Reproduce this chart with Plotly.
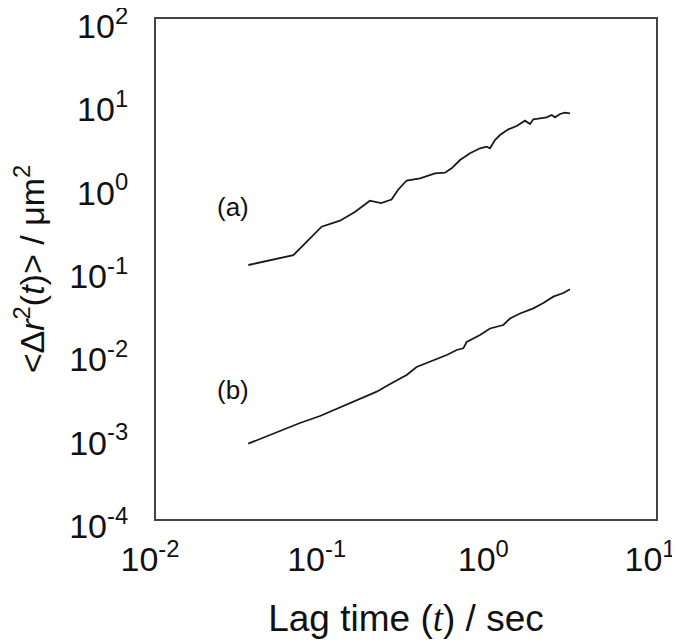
import math
import plotly.graph_objects as go

# Curve (a)
lag_a = [0.0358, 0.0667, 0.0986, 0.127, 0.156, 0.192, 0.224, 0.259, 0.283, 0.319,
         0.384, 0.472, 0.542, 0.594, 0.667, 0.766, 0.879, 0.964, 1.009, 1.081,
         1.159, 1.300, 1.459, 1.637, 1.754, 1.837, 2.014, 2.208, 2.366, 2.477,
         2.655, 2.844, 3.048]
msd_a = [0.1117, 0.147, 0.322, 0.380, 0.483, 0.660, 0.619, 0.682, 0.887, 1.153,
         1.225, 1.407, 1.431, 1.616, 2.032, 2.446, 2.808, 2.936, 2.808, 3.532,
         4.055, 4.745, 5.200, 6.026, 5.495, 6.252, 6.427, 6.607, 7.047, 6.607,
         7.244, 7.516, 7.379]

# Curve (b)
lag_b = [0.0358, 0.0731, 0.0964, 0.127, 0.160, 0.211, 0.254, 0.319, 0.366, 0.461,
         0.555, 0.637, 0.698, 0.731, 0.879, 1.009, 1.213, 1.330, 1.528, 1.837,
         2.109, 2.421, 2.780, 3.048]
msd_b = [0.000802, 0.001419, 0.001722, 0.002178, 0.002606, 0.003373, 0.004169,
         0.005346, 0.006668, 0.008091, 0.009290, 0.010666, 0.01117, 0.0133,
         0.01614, 0.01932, 0.02128, 0.02547, 0.02924, 0.03373, 0.03908, 0.04656,
         0.05152, 0.05702]

x_tickvals = [0.01, 0.1, 1, 10]
x_ticktext = ["10<sup>-2</sup>", "10<sup>-1</sup>", "10<sup>0</sup>", "10<sup>1</sup>"]
y_tickvals = [1e-4, 1e-3, 1e-2, 1e-1, 1, 10, 100]
y_ticktext = ["10<sup>-4</sup>", "10<sup>-3</sup>", "10<sup>-2</sup>", "10<sup>-1</sup>",
              "10<sup>0</sup>", "10<sup>1</sup>", "10<sup>2</sup>"]

labels = ["(a)", "(b)"]
label_x = [0.029, 0.029]
label_y = [0.555, 0.00353]

FONT = "Arial, 'Liberation Sans', sans-serif"
SERIF_T = "<span style=\"font-family:'Liberation Serif','Times New Roman',serif\"><i>t</i></span>"

fig = go.Figure()
fig.add_trace(go.Scatter(x=lag_a, y=msd_a, mode="lines",
                         line=dict(color="#1a1a1a", width=1.8), showlegend=False))
fig.add_trace(go.Scatter(x=lag_b, y=msd_b, mode="lines",
                         line=dict(color="#1a1a1a", width=1.8), showlegend=False))

for t, xx, yy in zip(labels, label_x, label_y):
    fig.add_annotation(x=math.log10(xx), y=math.log10(yy), xref="x", yref="y",
                       text=t, showarrow=False,
                       font=dict(family=FONT, size=26, color="#111"),
                       xanchor="center", yanchor="middle")

eps = 1e-6
fig.update_layout(
    width=680, height=644,
    margin=dict(l=148, r=32, t=11, b=133),
    paper_bgcolor="white", plot_bgcolor="white",
    font=dict(family=FONT, color="#111"),
)
fig.update_xaxes(
    type="log", range=[-2 - eps, 1 + eps], tickvals=x_tickvals, ticktext=x_ticktext,
    showgrid=False, zeroline=False, showline=True, mirror=True,
    linecolor="#444", linewidth=2, ticks="",
    tickfont=dict(family=FONT, size=34, color="#111"),
    ticklabelstandoff=9, ticklabelshift=-6, ticklabeloverflow="allow",
    title=dict(text="Lag time (" + SERIF_T + ") / sec",
               font=dict(family=FONT, size=37, color="#111"), standoff=28),
    automargin=False,
)
fig.update_yaxes(
    type="log", range=[-4 - eps, 2 + eps], tickvals=y_tickvals, ticktext=y_ticktext,
    showgrid=False, zeroline=False, showline=True, mirror=True,
    linecolor="#444", linewidth=2, ticks="",
    tickfont=dict(family=FONT, size=34, color="#111"),
    ticklabelstandoff=19, ticklabelshift=7, ticklabeloverflow="allow",
    title=dict(text="&lt;Δ<i>r</i><sup>2</sup>(<i>t</i>)&gt; / μm<sup>2</sup>",
               font=dict(family=FONT, size=34, color="#111"), standoff=22),
    automargin=False,
)

fig.write_html("out.html")
